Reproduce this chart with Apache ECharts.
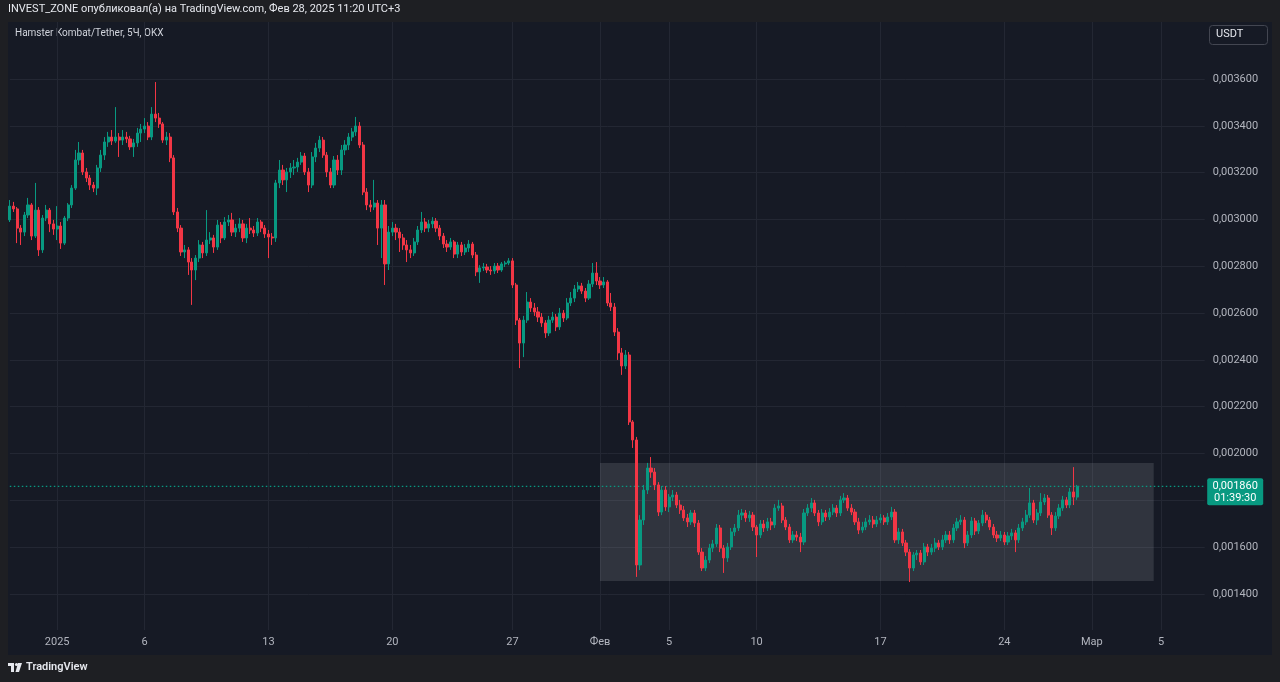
<!DOCTYPE html>
<html><head><meta charset="utf-8">
<script src="https://cdn.jsdelivr.net/npm/echarts@6/dist/echarts.min.js"></script>
<style>html,body{margin:0;padding:0;background:#1e1f23;}#c{width:1280px;height:682px;}</style>
</head><body><div id="c"></div>
<script>
// ---- DATA (prices in millionths of USDT, i.e. 3057 = 0.003057) ----
const firstOpen = 2998;
const closes = [3057,3045,2963,2946,3019,3062,2929,3040,2870,3006,3040,2981,2959,2972,2899,3006,3062,3134,3254,3284,
3203,3177,3147,3134,3220,3275,3331,3352,3335,3352,3339,3352,3344,3310,3327,3369,3386,3399,3352,3450,
3433,3408,3339,3352,3263,3032,2963,2861,2870,2818,2784,2835,2891,2857,2912,2921,2882,2976,2921,2989,
2998,2946,2963,2981,2921,2963,2955,2942,2989,2963,2938,2925,2921,3156,3211,3169,3203,3220,3224,3245,
3271,3203,3147,3267,3305,3339,3275,3203,3147,3254,3211,3297,3318,3352,3374,3399,3318,3117,3062,3053,
3070,2963,3062,2810,2946,2963,2946,2921,2891,2870,2857,2904,2955,2989,2963,2981,2993,2963,2929,2895,
2882,2904,2852,2891,2861,2878,2895,2848,2776,2793,2797,2784,2780,2801,2784,2810,2814,2823,2720,2570,
2472,2570,2647,2622,2605,2583,2558,2515,2570,2583,2541,2600,2579,2643,2664,2703,2716,2694,2664,2724,
2771,2737,2720,2733,2643,2626,2519,2430,2374,2421,2135,2058,1524,1716,1844,1938,1921,1866,1750,1844,
1772,1814,1823,1780,1759,1725,1708,1746,1703,1579,1511,1545,1596,1614,1682,1596,1554,1601,1665,1682,
1737,1746,1725,1737,1686,1652,1699,1682,1708,1695,1767,1776,1716,1686,1631,1652,1643,1622,1746,1767,
1789,1746,1708,1746,1729,1750,1767,1746,1802,1810,1767,1750,1708,1673,1686,1708,1716,1699,1716,1725,
1708,1729,1750,1631,1665,1618,1579,1511,1567,1575,1537,1601,1579,1596,1618,1601,1631,1652,1631,1682,
1708,1716,1618,1652,1712,1669,1703,1737,1716,1686,1652,1639,1652,1622,1648,1661,1631,1682,1708,1737,
1789,1716,1746,1793,1810,1737,1682,1733,1767,1802,1780,1836,1814,1860];
const highs = [3083,3075,3053,2976,3032,3092,3070,3156,3053,3019,3062,3049,2998,3057,2989,3015,3070,3147,3297,3331,
3297,3220,3190,3160,3233,3297,3352,3374,3382,3480,3369,3382,3374,3357,3344,3391,3408,3433,3416,3480,
3587,3455,3416,3374,3369,3275,3049,2976,2891,2882,2835,2848,2912,2904,3040,2946,2934,2998,2989,3010,
3019,3028,2981,3006,2998,2981,3006,2972,3006,2998,2976,2955,2942,3169,3254,3233,3220,3241,3254,3263,
3288,3284,3220,3288,3327,3357,3352,3288,3220,3271,3275,3318,3339,3369,3391,3438,3416,3331,3134,3083,
3169,3083,3083,3083,2972,2989,2981,2963,2938,2912,2891,2921,2972,3032,3006,2998,3010,3006,2976,2942,
2912,2921,2912,2904,2904,2895,2912,2904,2861,2805,2814,2810,2801,2814,2814,2818,2823,2835,2835,2729,
2579,2588,2690,2664,2643,2626,2600,2570,2588,2605,2596,2622,2613,2664,2690,2720,2733,2729,2707,2741,
2814,2818,2754,2754,2741,2686,2643,2536,2451,2442,2434,2143,2071,1737,1866,1960,1985,1938,1878,1861,
1861,1827,1844,1836,1802,1776,1742,1759,1759,1716,1596,1562,1614,1631,1699,1695,1609,1618,1682,1699,
1759,1763,1759,1755,1750,1695,1716,1716,1725,1725,1784,1802,1789,1729,1699,1669,1669,1661,1763,1784,
1810,1802,1759,1763,1759,1767,1784,1780,1819,1831,1823,1784,1763,1725,1708,1725,1737,1733,1733,1742,
1737,1746,1772,1763,1682,1678,1631,1592,1579,1588,1588,1618,1614,1614,1639,1631,1652,1669,1669,1699,
1725,1737,1729,1669,1729,1725,1716,1759,1750,1729,1699,1669,1669,1665,1665,1678,1673,1699,1725,1759,
1853,1802,1763,1831,1827,1823,1750,1750,1784,1819,1814,1853,1942,1866];
const lows = [2989,3032,2899,2891,2929,3006,2912,2921,2844,2857,2993,2946,2934,2912,2874,2891,2993,3049,3126,3233,
3190,3160,3126,3117,3104,3203,3254,3310,3318,3327,3267,3318,3327,3297,3267,3310,3331,3369,3339,3339,
3416,3391,3327,3318,3245,3019,2946,2844,2835,2763,2635,2741,2818,2835,2844,2895,2857,2870,2899,2912,
2972,2929,2925,2946,2904,2899,2938,2925,2929,2946,2921,2835,2891,2904,3134,3147,3117,3177,3190,3203,
3233,3190,3117,3134,3245,3288,3263,3181,3134,3134,3190,3190,3275,3297,3335,3357,3305,3104,3040,3032,
3040,2891,2835,2720,2784,2929,2912,2861,2870,2818,2835,2844,2891,2942,2946,2946,2963,2946,2912,2878,
2861,2870,2835,2835,2844,2848,2861,2835,2758,2729,2780,2771,2763,2767,2771,2776,2797,2805,2707,2549,
2365,2412,2558,2605,2588,2562,2541,2494,2502,2558,2523,2528,2562,2570,2630,2647,2690,2682,2647,2656,
2711,2720,2703,2707,2630,2609,2502,2400,2336,2361,2122,2024,1473,1502,1695,1827,1896,1844,1733,1737,
1755,1750,1797,1767,1742,1712,1686,1695,1686,1567,1498,1498,1532,1579,1601,1579,1490,1537,1588,1648,
1669,1716,1708,1708,1669,1558,1639,1665,1669,1673,1682,1755,1703,1673,1618,1618,1626,1579,1609,1733,
1750,1733,1690,1695,1712,1716,1737,1729,1733,1789,1755,1737,1695,1656,1661,1673,1695,1682,1686,1703,
1695,1695,1716,1618,1614,1605,1562,1451,1498,1545,1524,1524,1562,1567,1579,1588,1588,1618,1614,1618,
1669,1695,1596,1605,1639,1652,1656,1690,1703,1673,1639,1622,1626,1609,1609,1631,1579,1618,1669,1695,
1725,1703,1695,1733,1780,1725,1652,1669,1720,1755,1767,1767,1780,1802];
const priceUnit = 1e-6;
const lastPrice = 0.00186;
const countdown = '01:39:30';
const yTicks = [0.0014,0.0016,0.0018,0.0020,0.0022,0.0024,0.0026,0.0028,0.0030,0.0032,0.0034,0.0036];
const dayLabels = [['2025-01-01','2025'],['2025-01-06','6'],['2025-01-13','13'],['2025-01-20','20'],['2025-01-27','27'],
  ['2025-02-01','Фев'],['2025-02-05','5'],['2025-02-10','10'],['2025-02-17','17'],['2025-02-24','24'],['2025-03-01','Мар'],['2025-03-05','5']];
const rangeBox = {from:'2025-02-01 01:00', to:'2025-03-04 17:00', top:0.00196, bottom:0.001455};
const headerText = 'INVEST_ZONE опубликовал(а) на TradingView.com, Фев 28, 2025 11:20 UTC+3';
const legendText = 'Hamster Kombat/Tether, 5Ч, OKX';

// ---- categories: 5-hour bars (UTC+3 wall clock) ----
const startWall = Date.UTC(2024, 11, 29, 7, 0);
const stepMs = 5 * 3600 * 1000;
const nCats = 329;
const pad = n => (n < 10 ? '0' : '') + n;
const cats = [];
for (let i = 0; i < nCats; i++) {
  const d = new Date(startWall + i * stepMs);
  cats.push(d.getUTCFullYear() + '-' + pad(d.getUTCMonth() + 1) + '-' + pad(d.getUTCDate()) + ' ' + pad(d.getUTCHours()) + ':' + pad(d.getUTCMinutes()));
}
const labelAt = {};
dayLabels.forEach(([day, txt]) => {
  const idx = cats.findIndex(c => c >= day + ' 00:00');
  if (idx >= 0) labelAt[idx] = txt;
});

const candles = closes.map((c, i) => {
  const o = i === 0 ? firstOpen : closes[i - 1];
  const h = Math.max(highs[i], o, c), l = Math.min(lows[i], o, c);
  return [o * priceUnit, c * priceUnit, l * priceUnit, h * priceUnit];
});

const fmtPrice = v => v.toFixed(6).replace('.', ',');
const UP = '#089981', DOWN = '#f23645';
const FONT = 'Roboto, "Noto Sans", sans-serif';

const chart = echarts.init(document.getElementById('c'), null, {renderer: 'canvas'});
const gridTop = 22, gridBottom = 52, gridLeft = 9.8, gridRight = 75.3;

chart.setOption({
  backgroundColor: '#1e1f23',
  animation: false,
  grid: {left: gridLeft, right: gridRight, top: gridTop, bottom: gridBottom, containLabel: false},
  xAxis: {
    type: 'category', data: cats, boundaryGap: false,
    axisLine: {show: false}, axisTick: {show: false},
    axisLabel: {
      interval: (idx) => labelAt[idx] !== undefined,
      formatter: (v, idx) => labelAt[idx] || '',
      color: '#b2b5be', fontSize: 11, fontFamily: FONT, margin: 7
    },
    splitLine: {show: true, interval: (idx) => labelAt[idx] !== undefined, lineStyle: {color: '#232733', width: 1}}
  },
  yAxis: {
    type: 'value', position: 'right', scale: true,
    min: 0.0012462, max: 0.0038435,
    axisLine: {show: false}, axisTick: {show: false, customValues: yTicks},
    axisLabel: {customValues: yTicks, formatter: v => fmtPrice(v), color: '#b2b5be', fontSize: 11, fontFamily: FONT, margin: 8},
    splitLine: {show: true, lineStyle: {color: '#232733', width: 1}}
  },
  series: [{
    type: 'candlestick',
    data: candles,
    barWidth: 2.6,
    itemStyle: {color: UP, color0: DOWN, borderColor: UP, borderColor0: DOWN, borderWidth: 1},
    markArea: {
      silent: true,
      itemStyle: {color: 'rgba(178,181,190,0.17)'},
      data: [[{xAxis: rangeBox.from, yAxis: rangeBox.top}, {xAxis: rangeBox.to, yAxis: rangeBox.bottom}]]
    }
  }, {
    // last-price dotted line across the whole axis
    type: 'line', silent: true, symbol: 'none', z: 1,
    data: [[cats[0], lastPrice], [cats[nCats - 1], lastPrice]],
    lineStyle: {color: UP, type: [1.5, 2.5], width: 1.2},
    emphasis: {disabled: true}
  }],
  graphic: [
    {type: 'rect', z: -10, silent: true, shape: {x: 8, y: 22, width: 1264, height: 633}, style: {fill: '#161a25'}},
    {type: 'text', left: 8, top: 4, silent: true, style: {text: headerText, fill: '#e6e8ee', font: '11px ' + FONT}},
    {type: 'text', left: 15, top: 28, silent: true, style: {text: legendText, fill: '#d1d4dc', font: '10px ' + FONT}},
    {type: 'rect', z: 10, silent: true, shape: {x: 1209.5, y: 25.5, width: 58, height: 19, r: 3}, style: {fill: '#161a25', stroke: '#434651', lineWidth: 1}},
    {type: 'text', z: 11, silent: true, x: 1216, y: 29, style: {text: 'USDT', fill: '#e6e8ee', font: '11px ' + FONT}},
    // TradingView logo
    {type: 'rect', silent: true, shape: {x: 8, y: 663, width: 6, height: 3}, style: {fill: '#e6e8ee'}},
    {type: 'rect', silent: true, shape: {x: 11, y: 663, width: 3, height: 9}, style: {fill: '#e6e8ee'}},
    {type: 'circle', silent: true, shape: {cx: 16.5, cy: 664.5, r: 1.6}, style: {fill: '#e6e8ee'}},
    {type: 'polygon', silent: true, shape: {points: [[18, 663], [22, 663], [19, 672], [15.5, 672]]}, style: {fill: '#e6e8ee'}},
    {type: 'text', silent: true, x: 26, y: 662, style: {text: 'TradingView', fill: '#e6e8ee', font: '600 11px ' + FONT}}
  ]
});

// price tag at the right axis, positioned from the axis scale
const py = chart.convertToPixel({yAxisIndex: 0}, lastPrice);
const tagX = 1280 - gridRight + 2.5;
chart.setOption({graphic: [
  {type: 'rect', id: 'tagBox', z: 20, silent: true, shape: {x: tagX, y: py - 8, width: 56, height: 27, r: 2}, style: {fill: UP}},
  {type: 'text', id: 'tagT1', z: 21, silent: true, x: tagX + 28, y: py - 6, style: {text: fmtPrice(lastPrice), fill: '#ffffff', font: '11px ' + FONT, align: 'center'}},
  {type: 'text', id: 'tagT2', z: 21, silent: true, x: tagX + 28, y: py + 6, style: {text: countdown, fill: '#ffffff', font: '11px ' + FONT, align: 'center'}}
]});
</script>
</body></html>
